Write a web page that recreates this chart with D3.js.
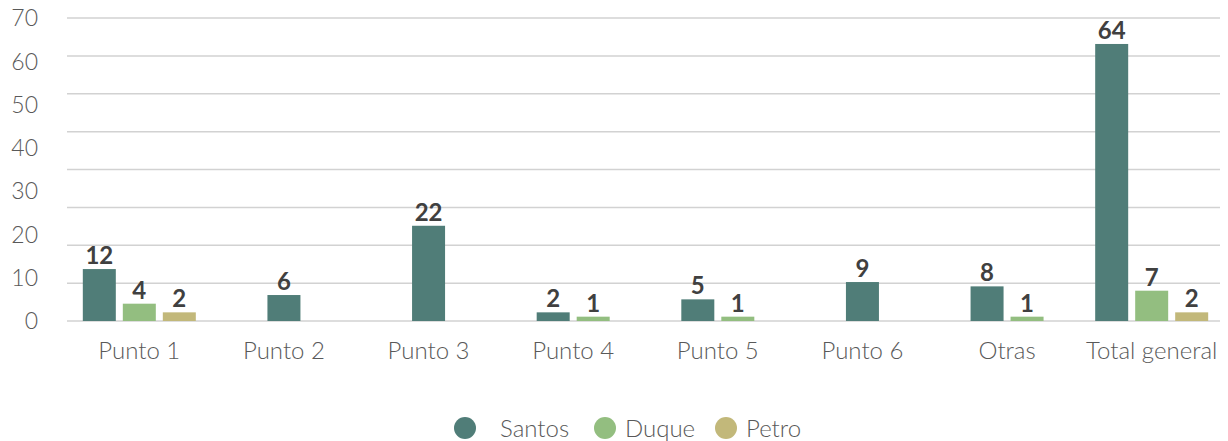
<!DOCTYPE html>
<html>
<head>
<meta charset="utf-8">
<script src="https://cdn.jsdelivr.net/npm/d3@7"></script>
<style>
  html, body { margin: 0; padding: 0; background: #fff; }
  svg { display: block; font-family: Lato, "Open Sans", sans-serif; }
</style>
</head>
<body>
<svg id="chart" width="1228" height="441"></svg>
<script>
// Chart data
const categories = ['Punto 1', 'Punto 2', 'Punto 3', 'Punto 4', 'Punto 5', 'Punto 6', 'Otras', 'Total general'];
const seriesNames = ['Santos', 'Duque', 'Petro'];
const santos = [12, 6, 22, 2, 5, 9, 8, 64];
const duque = [4, null, null, 1, 1, null, 1, 7];
const petro = [2, null, null, null, null, null, null, 2];
const yTicks = [0, 10, 20, 30, 40, 50, 60, 70];
const gridLines = [0, 8.75, 17.5, 26.25, 35, 43.75, 52.5, 61.25, 70];

const colors = { Santos: '#507d78', Duque: '#93be80', Petro: '#c2b87a' };
const values = { Santos: santos, Duque: duque, Petro: petro };

const svg = d3.select('#chart');

const x0 = d3.scaleBand()
    .domain(categories)
    .range([67, 1224]);

const y = d3.scaleLinear()
    .domain([0, 70])
    .range([321, 18]);

// Gridlines
svg.append('g')
    .selectAll('line')
    .data(gridLines)
    .join('line')
    .attr('x1', 67)
    .attr('x2', 1220)
    .attr('y1', d => y(d))
    .attr('y2', d => y(d))
    .attr('stroke', '#d2d2d2')
    .attr('stroke-width', 1.5);

// Y tick labels
svg.append('g')
    .selectAll('text')
    .data(yTicks)
    .join('text')
    .attr('x', 38)
    .attr('y', d => y(d))
    .attr('dy', '0.36em')
    .attr('text-anchor', 'end')
    .attr('fill', '#595959')
    .attr('font-size', '23px')
    .attr('font-weight', 300)
    .text(d => d);

// Bars, grouped per category with only the series that have a value
const step = 40;
categories.forEach((cat, i) => {
    const present = seriesNames.filter(s => values[s][i] != null);
    const c = x0(cat) + x0.bandwidth() / 2;
    const x1 = d3.scaleBand()
        .domain(present)
        .range([c - present.length * step / 2, c + present.length * step / 2])
        .paddingInner(0.175)
        .paddingOuter(0.0875);

    const g = svg.append('g');
    const items = present.map(s => ({ s, v: values[s][i] }));

    g.selectAll('rect')
        .data(items)
        .join('rect')
        .attr('x', d => x1(d.s))
        .attr('y', d => y(d.v))
        .attr('width', x1.bandwidth())
        .attr('height', d => y(0) - y(d.v))
        .attr('fill', d => colors[d.s]);

    g.selectAll('text')
        .data(items)
        .join('text')
        .attr('x', d => x1(d.s) + x1.bandwidth() / 2)
        .attr('y', d => y(d.v) - 5)
        .attr('text-anchor', 'middle')
        .attr('fill', '#404040')
        .attr('font-size', '24px')
        .attr('font-weight', 'bold')
        .text(d => d.v);
});

// Category labels
svg.append('g')
    .selectAll('text')
    .data(categories)
    .join('text')
    .attr('x', d => x0(d) + x0.bandwidth() / 2)
    .attr('y', 359)
    .attr('text-anchor', 'middle')
    .attr('fill', '#595959')
    .attr('font-size', '24px')
    .attr('font-weight', 300)
    .text(d => d);

// Legend
const legendX = [465, 605, 726];
const legend = svg.append('g')
    .selectAll('g')
    .data(seriesNames)
    .join('g')
    .attr('transform', (d, i) => `translate(${legendX[i]}, 428)`);

legend.append('circle')
    .attr('r', 11)
    .attr('fill', d => colors[d]);

legend.append('text')
    .attr('x', (d, i) => i === 0 ? 35 : 20)
    .attr('y', 0)
    .attr('dy', '0.36em')
    .attr('fill', '#595959')
    .attr('font-size', '24px')
    .attr('font-weight', 300)
    .text(d => d);
</script>
</body>
</html>
